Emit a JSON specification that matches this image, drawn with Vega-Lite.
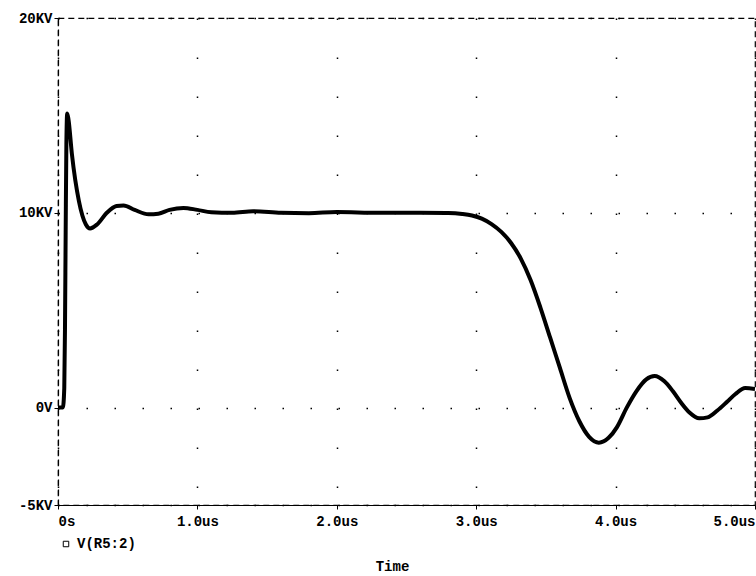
{
  "$schema": "https://vega.github.io/schema/vega-lite/v6.json",
  "width": 697,
  "height": 487,
  "autosize": "none",
  "padding": {"left": 58, "top": 18, "right": 1, "bottom": 71},
  "background": "white",
  "config": {
    "font": "Liberation Mono",
    "view": {"stroke": "black", "strokeDash": [6, 4], "strokeWidth": 1.2},
    "axis": {"labelFont": "Liberation Mono", "titleFont": "Liberation Mono", "labelFontWeight": "bold", "titleFontWeight": "bold", "labelColor": "black", "titleColor": "black", "labelFontSize": 14, "titleFontSize": 14}
  },
  "data": {"values": [
    {"t": 0, "v": 0, "s": "V(R5:2)"},
    {"t": 0.035, "v": 0, "s": "V(R5:2)"},
    {"t": 0.045, "v": 1, "s": "V(R5:2)"},
    {"t": 0.05, "v": 4, "s": "V(R5:2)"},
    {"t": 0.055, "v": 9, "s": "V(R5:2)"},
    {"t": 0.06, "v": 13.5, "s": "V(R5:2)"},
    {"t": 0.066, "v": 15.1, "s": "V(R5:2)"},
    {"t": 0.075, "v": 14.8, "s": "V(R5:2)"},
    {"t": 0.1, "v": 13, "s": "V(R5:2)"},
    {"t": 0.15, "v": 10.6, "s": "V(R5:2)"},
    {"t": 0.2, "v": 9.4, "s": "V(R5:2)"},
    {"t": 0.23, "v": 9.2, "s": "V(R5:2)"},
    {"t": 0.28, "v": 9.4, "s": "V(R5:2)"},
    {"t": 0.35, "v": 10.0, "s": "V(R5:2)"},
    {"t": 0.42, "v": 10.35, "s": "V(R5:2)"},
    {"t": 0.47, "v": 10.38, "s": "V(R5:2)"},
    {"t": 0.55, "v": 10.15, "s": "V(R5:2)"},
    {"t": 0.65, "v": 9.92, "s": "V(R5:2)"},
    {"t": 0.72, "v": 9.95, "s": "V(R5:2)"},
    {"t": 0.8, "v": 10.15, "s": "V(R5:2)"},
    {"t": 0.9, "v": 10.25, "s": "V(R5:2)"},
    {"t": 1.0, "v": 10.15, "s": "V(R5:2)"},
    {"t": 1.1, "v": 10.03, "s": "V(R5:2)"},
    {"t": 1.25, "v": 10.0, "s": "V(R5:2)"},
    {"t": 1.4, "v": 10.08, "s": "V(R5:2)"},
    {"t": 1.6, "v": 10.0, "s": "V(R5:2)"},
    {"t": 1.8, "v": 9.98, "s": "V(R5:2)"},
    {"t": 2.0, "v": 10.04, "s": "V(R5:2)"},
    {"t": 2.3, "v": 10.0, "s": "V(R5:2)"},
    {"t": 2.6, "v": 10.0, "s": "V(R5:2)"},
    {"t": 2.8, "v": 9.99, "s": "V(R5:2)"},
    {"t": 2.9, "v": 9.94, "s": "V(R5:2)"},
    {"t": 2.97, "v": 9.86, "s": "V(R5:2)"},
    {"t": 3.04, "v": 9.7, "s": "V(R5:2)"},
    {"t": 3.11, "v": 9.42, "s": "V(R5:2)"},
    {"t": 3.18, "v": 9.02, "s": "V(R5:2)"},
    {"t": 3.25, "v": 8.45, "s": "V(R5:2)"},
    {"t": 3.32, "v": 7.65, "s": "V(R5:2)"},
    {"t": 3.39, "v": 6.55, "s": "V(R5:2)"},
    {"t": 3.46, "v": 5.15, "s": "V(R5:2)"},
    {"t": 3.53, "v": 3.6, "s": "V(R5:2)"},
    {"t": 3.6, "v": 2.05, "s": "V(R5:2)"},
    {"t": 3.67, "v": 0.5, "s": "V(R5:2)"},
    {"t": 3.74, "v": -0.7, "s": "V(R5:2)"},
    {"t": 3.81, "v": -1.5, "s": "V(R5:2)"},
    {"t": 3.88, "v": -1.8, "s": "V(R5:2)"},
    {"t": 3.95, "v": -1.55, "s": "V(R5:2)"},
    {"t": 4.01, "v": -1.0, "s": "V(R5:2)"},
    {"t": 4.08, "v": 0.0, "s": "V(R5:2)"},
    {"t": 4.15, "v": 0.85, "s": "V(R5:2)"},
    {"t": 4.22, "v": 1.45, "s": "V(R5:2)"},
    {"t": 4.28, "v": 1.62, "s": "V(R5:2)"},
    {"t": 4.35, "v": 1.35, "s": "V(R5:2)"},
    {"t": 4.41, "v": 0.85, "s": "V(R5:2)"},
    {"t": 4.47, "v": 0.25, "s": "V(R5:2)"},
    {"t": 4.53, "v": -0.25, "s": "V(R5:2)"},
    {"t": 4.6, "v": -0.55, "s": "V(R5:2)"},
    {"t": 4.66, "v": -0.5, "s": "V(R5:2)"},
    {"t": 4.73, "v": -0.15, "s": "V(R5:2)"},
    {"t": 4.8, "v": 0.3, "s": "V(R5:2)"},
    {"t": 4.86, "v": 0.7, "s": "V(R5:2)"},
    {"t": 4.93, "v": 1.0, "s": "V(R5:2)"},
    {"t": 5.0, "v": 0.95, "s": "V(R5:2)"}
  ]},
  "mark": {"type": "line", "interpolate": "monotone", "strokeWidth": 4, "clip": true},
  "encoding": {
    "x": {
      "field": "t", "type": "quantitative",
      "scale": {"domain": [0, 5], "nice": false, "zero": false},
      "axis": {
        "values": [0, 1, 2, 3, 4, 5],
        "labelExpr": "datum.value == 0 ? '0s' : format(datum.value, '.1f') + 'us'",
        "title": "Time", "titleX": 334, "titleY": 61, "titleBaseline": "middle",
        "domainColor": "black", "domainDash": [6, 4], "domainWidth": 1.2,
        "tickColor": "black", "tickSize": 4, "labelPadding": 5,
        "grid": true, "gridColor": "black", "gridDash": [1.5, 37.5], "gridWidth": 1.5, "gridDashOffset": 0
      }
    },
    "y": {
      "field": "v", "type": "quantitative",
      "scale": {"domain": [-5, 20], "nice": false, "zero": false},
      "axis": {
        "values": [-5, 0, 10, 20],
        "labelExpr": "datum.value == 0 ? '0V' : datum.value + 'KV'",
        "title": null,
        "domainColor": "black", "domainDash": [6, 4], "domainWidth": 1.2,
        "tickColor": "black", "tickSize": 4, "labelPadding": 2,
        "grid": true, "gridColor": "black", "gridDash": [1.5, 26.5], "gridWidth": 1.5
      }
    },
    "color": {
      "field": "s", "type": "nominal",
      "scale": {"range": ["black"]},
      "legend": {
        "title": null, "orient": "none", "legendX": 1, "legendY": 519,
        "symbolType": "square", "symbolFillColor": "white", "symbolStrokeColor": "black", "symbolSize": 30, "symbolStrokeWidth": 1,
        "labelFont": "Liberation Mono", "labelFontWeight": "bold", "labelFontSize": 14, "labelColor": "black"
      }
    }
  }
}
